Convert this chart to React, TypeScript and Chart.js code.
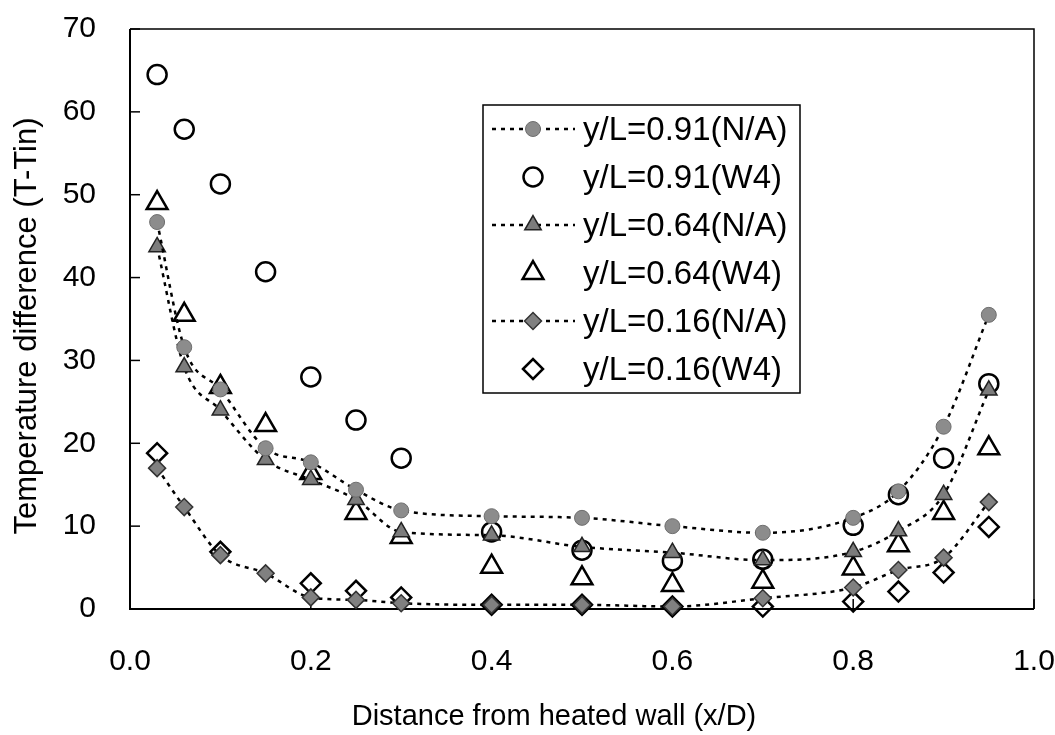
import React, { useEffect, useRef } from 'react';
import { Chart, registerables } from 'chart.js';
import { drawPoint } from 'chart.js/helpers';

Chart.register(...registerables);

// ---- data ----
const xPositions = [0.03, 0.06, 0.1, 0.15, 0.2, 0.25, 0.3, 0.4, 0.5, 0.6, 0.7, 0.8, 0.85, 0.9, 0.95];
const y91NA = [46.7, 31.6, 26.5, 19.4, 17.7, 14.4, 11.9, 11.2, 11.0, 10.0, 9.2, 11.0, 14.2, 22.0, 35.5];
const y91W4 = [64.5, 57.9, 51.3, 40.7, 28.0, 22.8, 18.2, 9.3, 7.1, 5.8, 6.0, 10.1, 13.8, 18.2, 27.2];
const y64NA = [43.7, 29.2, 24.0, 18.0, 15.6, 13.2, 9.3, 8.9, 7.5, 6.8, 5.9, 6.9, 9.4, 13.8, 26.4];
const y64W4 = [49.0, 35.5, 26.8, 22.2, 16.4, 11.6, 8.7, 5.1, 3.7, 2.9, 3.3, 4.9, 7.7, 11.6, 19.4];
const y16NA = [17.0, 12.3, 6.5, 4.3, 1.4, 1.1, 0.7, 0.5, 0.5, 0.3, 1.3, 2.6, 4.7, 6.2, 12.9];
const y16W4 = [18.8, null, 6.9, null, 3.1, 2.2, 1.4, 0.5, 0.5, 0.3, 0.3, 0.9, 2.1, 4.4, 9.9];

const seriesLabels = [
  'y/L=0.91(N/A)',
  'y/L=0.91(W4)',
  'y/L=0.64(N/A)',
  'y/L=0.64(W4)',
  'y/L=0.16(N/A)',
  'y/L=0.16(W4)',
];
const xTickStep = 0.2;
const yTickStep = 10;
const xTitle = 'Distance from heated wall (x/D)';
const yTitle = 'Temperature difference (T-Tin)';

const FONT = "'Liberation Sans', Arial, Helvetica, sans-serif";

const toPoints = (ys: (number | null)[]) =>
  xPositions.map((x, i) => ({ x, y: ys[i] }));

const framePlugin = {
  id: 'frameTicks',
  beforeDatasetsDraw(chart: any) {
    const { ctx, chartArea, scales } = chart;
    const { left, right, top, bottom } = chartArea;
    ctx.save();
    ctx.strokeStyle = '#000';
    ctx.lineWidth = 2;
    ctx.beginPath();
    ctx.moveTo(left, top);
    ctx.lineTo(left, bottom);
    ctx.lineTo(right, bottom);
    ctx.stroke();
    ctx.lineWidth = 1.5;
    ctx.beginPath();
    ctx.moveTo(left, top);
    ctx.lineTo(right, top);
    ctx.lineTo(right, bottom);
    ctx.stroke();
    scales.y.ticks.forEach((t: any) => {
      const py = scales.y.getPixelForValue(t.value);
      ctx.beginPath();
      ctx.moveTo(left, py);
      ctx.lineTo(left + 10, py);
      ctx.stroke();
    });
    scales.x.ticks.forEach((t: any) => {
      const px = scales.x.getPixelForValue(t.value);
      ctx.beginPath();
      ctx.moveTo(px, bottom);
      ctx.lineTo(px, bottom - 10);
      ctx.stroke();
    });
    ctx.restore();
  },
};

const axisTitlePlugin = {
  id: 'axisTitles',
  afterDraw(chart: any) {
    const { ctx, chartArea } = chart;
    const { left, right, top, bottom } = chartArea;
    ctx.save();
    ctx.fillStyle = '#000';
    ctx.textAlign = 'center';
    ctx.textBaseline = 'middle';
    ctx.font = `29px ${FONT}`;
    ctx.fillText(xTitle, (left + right) / 2 - 28, bottom + 108);
    ctx.translate(27, (top + bottom) / 2 + 7);
    ctx.rotate(-Math.PI / 2);
    ctx.font = `31px ${FONT}`;
    ctx.fillText(yTitle, 0, 0);
    ctx.restore();
  },
};

const legendPlugin = {
  id: 'boxLegend',
  afterDraw(chart: any) {
    const { ctx } = chart;
    const datasets = chart.data.datasets;
    const left = 483;
    const top = 105;
    const width = 317;
    const rowH = 48;
    const height = rowH * datasets.length;
    ctx.save();
    ctx.fillStyle = '#fff';
    ctx.fillRect(left, top, width, height);
    ctx.strokeStyle = '#000';
    ctx.lineWidth = 1.5;
    ctx.strokeRect(left, top, width, height);
    datasets.forEach((ds: any, i: number) => {
      const cy = top + rowH * (i + 0.5);
      if (ds.showLine !== false) {
        ctx.save();
        ctx.strokeStyle = ds.borderColor;
        ctx.lineWidth = ds.borderWidth;
        ctx.setLineDash(ds.borderDash || []);
        ctx.beginPath();
        ctx.moveTo(492, cy);
        ctx.lineTo(575, cy);
        ctx.stroke();
        ctx.restore();
      }
      ctx.save();
      ctx.setLineDash([]);
      ctx.fillStyle = ds.pointBackgroundColor;
      ctx.strokeStyle = ds.pointBorderColor;
      ctx.lineWidth = ds.pointBorderWidth;
      drawPoint(
        ctx,
        {
          pointStyle: ds.pointStyle,
          radius: ds.pointRadius,
          rotation: 0,
          borderWidth: ds.pointBorderWidth,
        } as any,
        533,
        cy
      );
      ctx.restore();
      ctx.fillStyle = '#000';
      ctx.font = `33px ${FONT}`;
      ctx.textAlign = 'left';
      ctx.textBaseline = 'middle';
      ctx.fillText(ds.label, 583, cy + 2);
    });
    ctx.restore();
  },
};

const lineDash = [4, 5];

function makeDatasets() {
  const na = (label: string, data: (number | null)[], style: string, radius: number, bg: string, border: string, bw: number) => ({
    label,
    data: toPoints(data),
    showLine: true,
    borderColor: '#000',
    borderWidth: 2.5,
    borderDash: lineDash,
    cubicInterpolationMode: 'monotone',
    pointStyle: style,
    pointRadius: radius,
    pointBackgroundColor: bg,
    pointBorderColor: border,
    pointBorderWidth: bw,
    fill: false,
    clip: false,
    order: 0,
  });
  const w4 = (label: string, data: (number | null)[], style: string, radius: number) => ({
    label,
    data: toPoints(data),
    showLine: false,
    borderColor: '#000',
    borderWidth: 0,
    pointStyle: style,
    pointRadius: radius,
    pointBackgroundColor: 'rgba(255,255,255,0)',
    pointBorderColor: '#000',
    pointBorderWidth: 2.5,
    clip: false,
    order: 1,
  });
  return [
    na(seriesLabels[0], y91NA, 'circle', 7.5, '#8c8c8c', '#6e6e6e', 1),
    w4(seriesLabels[1], y91W4, 'circle', 9.5),
    na(seriesLabels[2], y64NA, 'triangle', 9.5, '#7c7c7c', '#222', 1.5),
    w4(seriesLabels[3], y64W4, 'triangle', 12),
    na(seriesLabels[4], y16NA, 'rectRot', 8.5, '#808080', '#333', 1.5),
    w4(seriesLabels[5], y16W4, 'rectRot', 10),
  ];
}

export default function App() {
  const canvasRef = useRef<HTMLCanvasElement | null>(null);

  useEffect(() => {
    if (!canvasRef.current) return;
    const chart = new Chart(canvasRef.current, {
      type: 'scatter',
      data: { datasets: makeDatasets() as any },
      options: {
        animation: false,
        responsive: false,
        devicePixelRatio: 1,
        layout: { padding: { top: 29, right: 21, left: 0, bottom: 0 } },
        plugins: {
          legend: { display: false },
          tooltip: { enabled: false },
        },
        scales: {
          x: {
            type: 'linear',
            min: 0,
            max: 1,
            grid: { display: false, drawTicks: false },
            border: { display: false },
            ticks: {
              stepSize: xTickStep,
              padding: 35,
              color: '#000',
              font: { family: FONT, size: 30 },
              callback: (v: any) => Number(v).toFixed(1),
            },
            title: { display: false },
            afterFit: (scale: any) => {
              scale.height = 126;
              scale.paddingLeft = 0;
              scale.paddingRight = 0;
            },
          },
          y: {
            type: 'linear',
            min: 0,
            max: 70,
            grid: { display: false, drawTicks: false },
            border: { display: false },
            ticks: {
              stepSize: yTickStep,
              padding: 34,
              color: '#000',
              font: { family: FONT, size: 30 },
            },
            title: { display: false },
            afterFit: (scale: any) => {
              scale.width = 130;
              scale.paddingTop = 0;
              scale.paddingBottom = 0;
            },
          },
        },
      } as any,
      plugins: [framePlugin, legendPlugin, axisTitlePlugin],
    });
    return () => chart.destroy();
  }, []);

  return (
    <div style={{ position: 'absolute', left: 0, top: 0, width: 1055, height: 735, background: '#fff' }}>
      <canvas ref={canvasRef} width={1055} height={735} style={{ display: 'block' }} />
    </div>
  );
}
